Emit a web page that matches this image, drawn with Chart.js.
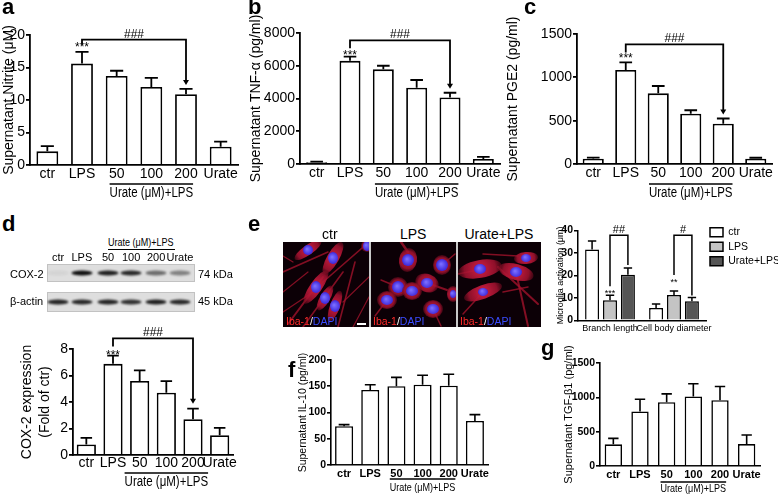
<!DOCTYPE html>
<html>
<head>
<meta charset="utf-8">
<title>Urate y microglía</title>
<script src="https://cdn.jsdelivr.net/npm/chart.js@4.4.1/dist/chart.umd.min.js"></script>
<style>
  body { margin: 0; width: 778px; height: 497px; position: relative; overflow: hidden; background: #fff;
         font-family: "Liberation Sans", Arial, sans-serif; color: #000; }
  canvas { position: absolute; }
  .t { position: absolute; line-height: 1; white-space: nowrap; }
  .hl { position: absolute; height: 0; border-top: 1.5px solid #000; }
</style>
</head>
<body>
<canvas id="chartA" width="246" height="200"></canvas>
<canvas id="chartB" width="261" height="200"></canvas>
<canvas id="chartC" width="273" height="200"></canvas>
<canvas id="chartD" width="246" height="172"></canvas>
<canvas id="chartE" width="225" height="112"></canvas>
<canvas id="chartF" width="199" height="155"></canvas>
<canvas id="chartG" width="208" height="155"></canvas>
<canvas id="blot" width="148" height="48" style="left:47px;top:264px"></canvas>
<canvas id="micro" width="258" height="85" style="left:283px;top:242px"></canvas>
<script>
// Datos
const groups = ['ctr', 'LPS', '50', '100', '200', 'Urate'];
const subLabel = 'Urate (μM)+LPS';

const nitriteMean = [2.1, 15.6, 13.7, 12.0, 10.9, 2.8];
const nitriteSem = [0.8, 1.8, 0.8, 1.4, 0.8, 0.8];
const nitriteTicks = [0, 5, 10, 15, 20];

const tnfMean = [100, 6300, 5780, 4660, 4060, 310];
const tnfSem = [40, 260, 220, 470, 290, 130];
const tnfTicks = [0, 2000, 4000, 6000, 8000];

const pge2Mean = [62, 1085, 815, 580, 465, 62];
const pge2Sem = [12, 88, 85, 40, 60, 10];
const pge2Ticks = [0, 500, 1000, 1500];

const cox2Mean = [0.8, 6.88, 5.58, 4.7, 2.7, 1.5];
const cox2Sem = [0.5, 0.62, 0.8, 0.88, 0.8, 0.55];
const cox2Ticks = [0, 2, 4, 6, 8];

const il10Mean = [74, 143, 150, 153, 151, 84];
const il10Sem = [3, 10, 17, 18, 22, 12];
const il10Ticks = [0, 50, 100, 150, 200];

const tgfMean = [315, 795, 930, 1013, 958, 320];
const tgfSem = [88, 178, 120, 185, 200, 132];
const tgfTicks = [0, 500, 1000, 1500];

const morphCategories = ['Branch length', 'Cell body diameter'];
const morphCtr = [31.5, 5.5];
const morphCtrSem = [3.8, 1.8];
const morphLps = [8.9, 11.2];
const morphLpsSem = [2.2, 1.8];
const morphUrate = [20.3, 8.5];
const morphUrateSem = [3.0, 1.6];
const morphTicks = [0, 10, 20, 30, 40];

// intensidad de las bandas del western blot (0-1)
const bandaCox2 = [0.05, 1, 0.92, 0.88, 0.55, 0.45];
const bandaActina = [0.9, 0.88, 0.9, 0.84, 0.92, 0.88];

const FONT = '"Liberation Sans", Arial, sans-serif';
const ESTRECHO = 0.82; // escala horizontal para imitar Arial Narrow
Chart.defaults.font.family = FONT;
Chart.defaults.color = '#000';

// Plugin: barras de error, asteriscos, corchetes y el rótulo "Urate (μM)+LPS"
function crearExtras(cfg) {
  return {
    id: 'extras',
    afterDatasetsDraw(chart) {
      const ctx = chart.ctx;
      const yS = chart.scales.y;
      const xS = chart.scales.x;
      const area = chart.chartArea;
      const sets = chart.data.datasets;
      const capY = (d, i) => yS.getPixelForValue(sets[d].data[i] + cfg.errors[d][i]);
      const barOf = (d, i) => chart.getDatasetMeta(d).data[i];
      ctx.save();
      ctx.strokeStyle = '#000';
      ctx.fillStyle = '#000';
      ctx.lineWidth = cfg.lineWidth;

      cfg.errors.forEach((errs, d) => {
        chart.getDatasetMeta(d).data.forEach((bar, i) => {
          const ey = capY(d, i);
          const half = bar.width * 0.3;
          ctx.beginPath();
          ctx.moveTo(bar.x, bar.y);
          ctx.lineTo(bar.x, ey);
          ctx.moveTo(bar.x - half, ey);
          ctx.lineTo(bar.x + half, ey);
          ctx.stroke();
        });
      });

      ctx.textAlign = 'center';
      ctx.textBaseline = 'alphabetic';
      (cfg.stars || []).forEach(s => {
        ctx.font = s.size + 'px ' + FONT;
        const bar = barOf(s.ds, s.i);
        ctx.fillText(s.text, bar.x, capY(s.ds, s.i) - s.gap + 0.58 * s.size);
      });

      (cfg.brackets || []).forEach(b => {
        const A = barOf(b.a[0], b.a[1]);
        const B = barOf(b.b[0], b.b[1]);
        const yt = yS.getPixelForValue(b.top);
        const ya = b.lenA != null ? yt + b.lenA : capY(b.a[0], b.a[1]) - b.gapA;
        const yb = capY(b.b[0], b.b[1]) - b.gapB;
        ctx.beginPath();
        ctx.moveTo(A.x, ya);
        ctx.lineTo(A.x, yt);
        ctx.lineTo(B.x, yt);
        ctx.lineTo(B.x, b.arrow ? yb - 4 : yb);
        ctx.stroke();
        if (b.arrow) {
          ctx.beginPath();
          ctx.moveTo(B.x - 3, yb - 5);
          ctx.lineTo(B.x + 3, yb - 5);
          ctx.lineTo(B.x, yb);
          ctx.closePath();
          ctx.fill();
        }
        ctx.font = b.size + 'px ' + FONT;
        ctx.fillText(b.label, (A.x + B.x) / 2, yt - 2);
      });

      if (cfg.sub) {
        const s = cfg.sub;
        ctx.font = s.size + 'px ' + FONT;
        const w = ctx.measureText(subLabel).width * ESTRECHO;
        const cx = (xS.getPixelForValue(2) + xS.getPixelForValue(4)) / 2;
        ctx.lineWidth = 1.5;
        ctx.beginPath();
        ctx.moveTo(cx - w / 2, area.bottom + s.line);
        ctx.lineTo(cx + w / 2, area.bottom + s.line);
        ctx.stroke();
        ctx.textBaseline = 'middle';
        ctx.translate(cx, area.bottom + s.textY);
        ctx.scale(ESTRECHO, 1);
        ctx.fillText(subLabel, 0, 0);
      }
      ctx.restore();
    }
  };
}

// Crea un panel de barras estilo Prism y lo coloca para que el área coincida
function crearPanel(id, p) {
  const cv = document.getElementById(id);
  const x0 = p.left - p.yw;
  const lh = p.titleLine || 1.2;
  const titleShift = p.titleX - x0 - p.titleSize * lh / 2;
  const peso = p.bold ? 'bold' : 'normal';
  const chart = new Chart(cv, {
    type: 'bar',
    data: {
      labels: p.labels,
      datasets: p.series.map(s => ({
        label: s.label,
        data: s.data,
        backgroundColor: s.color,
        borderColor: '#000',
        borderWidth: p.border,
        barPercentage: p.barPct,
        categoryPercentage: p.catPct
      }))
    },
    options: {
      responsive: false,
      maintainAspectRatio: false,
      animation: false,
      events: [],
      layout: { padding: { top: p.padTop, right: p.padRight, left: 0, bottom: 0 } },
      plugins: {
        legend: p.legend || { display: false },
        tooltip: { enabled: false }
      },
      scales: {
        x: {
          grid: { display: false, drawTicks: false, tickLength: 0 },
          border: { display: true, color: '#000', width: p.border },
          ticks: { color: '#000', font: { size: p.xSize, weight: p.xWeight || peso },
                   padding: p.xPad, maxRotation: 0, autoSkip: false },
          afterFit(s) { s.height = p.xh; }
        },
        y: {
          min: 0,
          max: p.ticks[p.ticks.length - 1],
          grid: { display: true, drawOnChartArea: false, drawTicks: true, tickLength: 4,
                  color: '#000', lineWidth: p.border },
          border: { display: true, color: '#000', width: p.border },
          ticks: { color: '#000', font: { size: p.tickSize, weight: peso }, padding: 1,
                   callback: v => String(v) },
          afterBuildTicks(s) { s.ticks = p.ticks.map(v => ({ value: v })); },
          afterFit(s) { s.width = p.yw; },
          title: { display: true, text: p.title, color: '#000',
                   font: { size: p.titleSize, lineHeight: lh },
                   padding: { top: titleShift, bottom: 0 } }
        }
      }
    },
    plugins: [crearExtras({
      errors: p.series.map(s => s.err),
      stars: p.stars, brackets: p.brackets, sub: p.sub, lineWidth: p.border
    })]
  });
  // ajustar tamaño y posición del canvas
  let a = chart.chartArea;
  const dw = (p.right - p.left) - (a.right - a.left);
  const dh = (p.bottom - p.top) - (a.bottom - a.top);
  if (Math.abs(dw) > 0.2 || Math.abs(dh) > 0.2) {
    chart.resize(chart.width + dw, chart.height + dh);
    a = chart.chartArea;
  }
  cv.style.left = (p.left - a.left) + 'px';
  cv.style.top = (p.top - a.top) + 'px';
  return chart;
}

function panelPrism(id, p, mean, sem) {
  return crearPanel(id, Object.assign({
    labels: groups, series: [{ label: 'x', data: mean, err: sem, color: '#fff' }],
    catPct: 1
  }, p));
}

// a - d: paneles grandes
panelPrism('chartA', {
  left: 30, top: 35, right: 238, bottom: 165, yw: 32, padTop: 32, padRight: 6, xh: 40,
  ticks: nitriteTicks, title: 'Supernatant Nitrite (μM)', titleSize: 14, titleX: 9,
  tickSize: 14, xSize: 14, xPad: 1, border: 1.8, barPct: 0.63,
  stars: [{ ds: 0, i: 1, text: '***', gap: 8, size: 12 }],
  brackets: [{ a: [0, 1], b: [0, 4], top: 19.3, lenA: 5, gapB: 4, arrow: true, label: '###', size: 12 }],
  sub: { size: 14, line: 19, textY: 28 }
}, nitriteMean, nitriteSem);

panelPrism('chartB', {
  left: 300, top: 33, right: 500, bottom: 164, yw: 55, padTop: 32, padRight: 6, xh: 40,
  ticks: tnfTicks, title: 'Supernatant TNF-α (pg/ml)', titleSize: 14, titleX: 256,
  tickSize: 14, xSize: 14, xPad: 1, border: 1.8, barPct: 0.63,
  stars: [{ ds: 0, i: 1, text: '***', gap: 5, size: 12 }],
  brackets: [{ a: [0, 1], b: [0, 4], top: 7550, lenA: 8, gapB: 4, arrow: true, label: '###', size: 12 }],
  sub: { size: 14, line: 20, textY: 29 }
}, tnfMean, tnfSem);

panelPrism('chartC', {
  left: 577, top: 34, right: 772, bottom: 164, yw: 73, padTop: 32, padRight: 5, xh: 40,
  ticks: pge2Ticks, title: 'Supernatant PGE2 (pg/ml)', titleSize: 14, titleX: 513,
  tickSize: 14, xSize: 14, xPad: 1, border: 1.8, barPct: 0.65,
  stars: [{ ds: 0, i: 1, text: '***', gap: 7, size: 12 }],
  brackets: [{ a: [0, 1], b: [0, 4], top: 1380, lenA: 8, gapB: 4, arrow: true, label: '###', size: 12 }],
  sub: { size: 14, line: 20, textY: 29 }
}, pge2Mean, pge2Sem);

panelPrism('chartD', {
  left: 73, top: 349, right: 233, bottom: 455, yw: 75, padTop: 28, padRight: 6, xh: 40,
  ticks: cox2Ticks, title: ['COX-2 expression', '(Fold of ctr)'], titleSize: 14, titleLine: 1.3, titleX: 27,
  tickSize: 14, xSize: 14, xPad: 0, border: 1.8, barPct: 0.72,
  stars: [{ ds: 0, i: 1, text: '***', gap: 4, size: 12 }],
  brackets: [{ a: [0, 1], b: [0, 4], top: 8.8, lenA: 8, gapB: 5, arrow: true, label: '###', size: 12 }],
  sub: { size: 14, line: 18, textY: 27 }
}, cox2Mean, cox2Sem);

// e: morfología (tres series agrupadas)
crearPanel('chartE', {
  left: 578, top: 230, right: 706, bottom: 320, yw: 25, padTop: 0, padRight: 0, xh: 18,
  labels: morphCategories,
  series: [
    { label: 'ctr', data: morphCtr, err: morphCtrSem, color: '#ffffff' },
    { label: 'LPS', data: morphLps, err: morphLpsSem, color: '#c4c4c4' },
    { label: 'Urate+LPS', data: morphUrate, err: morphUrateSem, color: '#555555' }
  ],
  ticks: morphTicks, title: 'Microglia activation (μm)', titleSize: 9, titleX: 561,
  tickSize: 10.5, xSize: 9, xWeight: 'normal', xPad: 3, border: 1.5, bold: true,
  catPct: 0.84, barPct: 0.78,
  legend: { display: true, position: 'right', align: 'start', maxWidth: 72,
            labels: { boxWidth: 13, boxHeight: 9, padding: 4, color: '#000',
                      font: { size: 10.5, family: FONT } } },
  stars: [{ ds: 1, i: 0, text: '***', gap: 5, size: 9 }, { ds: 1, i: 1, text: '**', gap: 11, size: 9 }],
  brackets: [
    { a: [1, 0], b: [2, 0], top: 37.8, gapA: 9, gapB: 3, label: '##', size: 11 },
    { a: [1, 1], b: [2, 1], top: 37.8, gapA: 16, gapB: 2, label: '#', size: 11 }
  ]
});

// f, g: paneles pequeños
panelPrism('chartF', {
  left: 331, top: 360, right: 488, bottom: 465, yw: 36, padTop: 18, padRight: 6, xh: 31,
  ticks: il10Ticks, title: 'Supernatant IL-10 (pg/ml)', titleSize: 10.5, titleX: 303,
  tickSize: 10.5, xSize: 11, xPad: 2, border: 1.6, barPct: 0.69, bold: true,
  sub: { size: 11, line: 14, textY: 23 }
}, il10Mean, il10Sem);

panelPrism('chartG', {
  left: 600, top: 363, right: 760, bottom: 466, yw: 42, padTop: 22, padRight: 6, xh: 31,
  ticks: tgfTicks, title: 'Supernatant TGF-β1 (pg/ml)', titleSize: 11, titleX: 569,
  tickSize: 10.5, xSize: 11, xPad: 2, border: 1.6, barPct: 0.65, bold: true,
  sub: { size: 11, line: 16, textY: 23 }
}, tgfMean, tgfSem);

// Textos sueltos (posición por línea base)
function texto(html, x, base, size, o = {}) {
  const d = document.createElement('div');
  d.className = 't';
  d.innerHTML = html;
  d.style.fontSize = size + 'px';
  d.style.top = (base - 0.8465 * size) + 'px';
  if (o.bold) d.style.fontWeight = 'bold';
  document.body.appendChild(d);
  const sx = o.narrow ? ESTRECHO : 1;
  if (o.narrow) {
    d.style.transformOrigin = 'left center';
    d.style.transform = 'scaleX(' + sx + ')';
  }
  d.style.left = (o.center ? x - d.offsetWidth * sx / 2 : x) + 'px';
  return d;
}
function linea(x, y, w) {
  const d = document.createElement('div');
  d.className = 'hl';
  d.style.left = x + 'px';
  d.style.top = y + 'px';
  d.style.width = w + 'px';
  document.body.appendChild(d);
}

[['a', 2, 15], ['b', 248, 15], ['c', 524, 15], ['d', 2, 232], ['e', 248, 232], ['f', 288, 378], ['g', 541, 356]]
  .forEach(([l, x, y]) => texto(l, x, y, 22, { bold: true }));

// Western blot
const carriles = [11, 35, 61, 84, 109, 133];
texto(subLabel, 141, 246, 11, { center: true, narrow: true });
linea(108, 249, 67);
groups.forEach((g, i) => texto(g, 47 + carriles[i], 261, 11, { center: true }));
texto('COX-2', 10, 278, 11);
texto('β-actin', 10, 305, 11);
texto('74 kDa', 198, 278, 11);
texto('45 kDa', 198, 305, 11);

function dibujarBlot() {
  const ctx = document.getElementById('blot').getContext('2d');
  [[0, 18, bandaCox2], [28, 20, bandaActina]].forEach(([y0, hh, vals]) => {
    ctx.fillStyle = '#dedede';
    ctx.fillRect(0, y0, 148, hh);
    ctx.strokeStyle = '#c2c2c2';
    ctx.lineWidth = 1;
    ctx.strokeRect(0.5, y0 + 0.5, 147, hh - 1);
    ctx.save();
    ctx.filter = 'blur(1px)';
    vals.forEach((v, i) => {
      ctx.fillStyle = 'rgba(15,15,15,' + v + ')';
      ctx.beginPath();
      ctx.ellipse(carriles[i], y0 + hh / 2, 10.5, 2.6, 0, 0, Math.PI * 2);
      ctx.fill();
    });
    ctx.restore();
  });
}
dibujarBlot();

// Microscopía (imagen ilustrativa)
texto('ctr', 330, 239, 14, { center: true });
texto('LPS', 413, 239, 14, { center: true });
texto('Urate+LPS', 499, 239, 14, { center: true });
[286, 373, 460].forEach(x => texto('<span style="color:#ff2a2a">Iba-1</span><span style="color:#fff">/</span><span style="color:#3a4cff">DAPI</span>', x, 325, 10.5));

const paneles = [
  { x: 0, w: 86,
    cells: [[25, 8, 16, 5, -35, 5, 5], [50, 16, 18, 6, -60, 5, 6], [84, 4, 6, 6, 0, 4, 5],
            [33, 45, 20, 6, -55, 5, 6], [42, 56, 14, 5, -60, 5, 6], [52, 64, 16, 5, -70, 5, 6]],
    proc: [[0, 30, 45, 10, 1.6], [5, 82, 40, 35, 2], [20, 85, 60, 30, 1.6], [40, 40, 86, 0, 1.6],
           [55, 85, 72, 20, 1.6], [60, 60, 86, 35, 1.2], [0, 50, 25, 30, 1.2], [10, 20, 0, 14, 1.2],
           [0, 70, 30, 50, 1.2], [70, 85, 86, 55, 1.2]] },
  { x: 88, w: 85,
    cells: [[37, 18, 9, 12, 10, 6, 6], [71, 23, 9, 10, 0, 6, 6], [56, 41, 12, 9, 20, 6, 5],
            [27, 45, 10, 10, 0, 6, 6], [41, 49, 10, 9, 0, 6, 5], [16, 58, 10, 9, 0, 6, 5],
            [62, 67, 10, 9, 0, 6, 5], [82, 52, 6, 8, 0, 3, 4]],
    proc: [[37, 10, 30, 0, 2.5], [56, 41, 76, 48, 2], [16, 58, 4, 74, 1.5], [71, 23, 84, 12, 1.5],
           [27, 45, 10, 38, 1.5], [62, 67, 70, 84, 1.5]] },
  { x: 175, w: 83,
    cells: [[22, 27, 22, 9, -10, 6, 5], [58, 30, 18, 8, 15, 6, 5], [68, 16, 12, 6, -5, 5, 4],
            [25, 50, 20, 7, -20, 5, 4]],
    proc: [[0, 32, 20, 28, 1.5], [40, 25, 80, 62, 2], [58, 30, 70, 84, 2], [25, 50, 5, 72, 1.5],
           [25, 12, 60, 14, 1.5], [45, 50, 70, 45, 1.5]] }
];

function dibujarMicroscopia() {
  const ctx = document.getElementById('micro').getContext('2d');
  ctx.fillStyle = '#c8c8c8';
  ctx.fillRect(0, 0, 258, 85);
  paneles.forEach(pn => {
    ctx.save();
    ctx.beginPath();
    ctx.rect(pn.x, 0, pn.w, 85);
    ctx.clip();
    ctx.fillStyle = '#0c0006';
    ctx.fillRect(pn.x, 0, pn.w, 85);
    ctx.translate(pn.x, 0);
    ctx.lineCap = 'round';
    ctx.strokeStyle = 'rgba(160,18,42,0.8)';
    pn.proc.forEach(([x1, y1, x2, y2, lw]) => {
      ctx.lineWidth = lw;
      ctx.beginPath();
      ctx.moveTo(x1, y1);
      ctx.lineTo(x2, y2);
      ctx.stroke();
    });
    pn.cells.forEach(([cx, cy, rx, ry, rot, nrx, nry]) => {
      ctx.save();
      ctx.translate(cx, cy);
      ctx.rotate(rot * Math.PI / 180);
      const g = ctx.createRadialGradient(0, 0, 1, 0, 0, Math.max(rx, ry));
      g.addColorStop(0, 'rgba(205,30,65,1)');
      g.addColorStop(0.7, 'rgba(165,18,48,0.85)');
      g.addColorStop(1, 'rgba(110,10,30,0.5)');
      ctx.fillStyle = g;
      ctx.beginPath();
      ctx.ellipse(0, 0, rx, ry, 0, 0, Math.PI * 2);
      ctx.fill();
      ctx.restore();
      const n = ctx.createRadialGradient(cx - 1, cy - 1, 0.5, cx, cy, Math.max(nrx, nry));
      n.addColorStop(0, '#7a6cff');
      n.addColorStop(1, '#3a26d8');
      ctx.fillStyle = n;
      ctx.beginPath();
      ctx.ellipse(cx, cy, nrx, nry, 0, 0, Math.PI * 2);
      ctx.fill();
    });
    ctx.restore();
  });
  // barra de escala
  ctx.strokeStyle = '#fff';
  ctx.lineWidth = 2;
  ctx.beginPath();
  ctx.moveTo(74, 82);
  ctx.lineTo(83, 82);
  ctx.stroke();
}
dibujarMicroscopia();
</script>
</body>
</html>
